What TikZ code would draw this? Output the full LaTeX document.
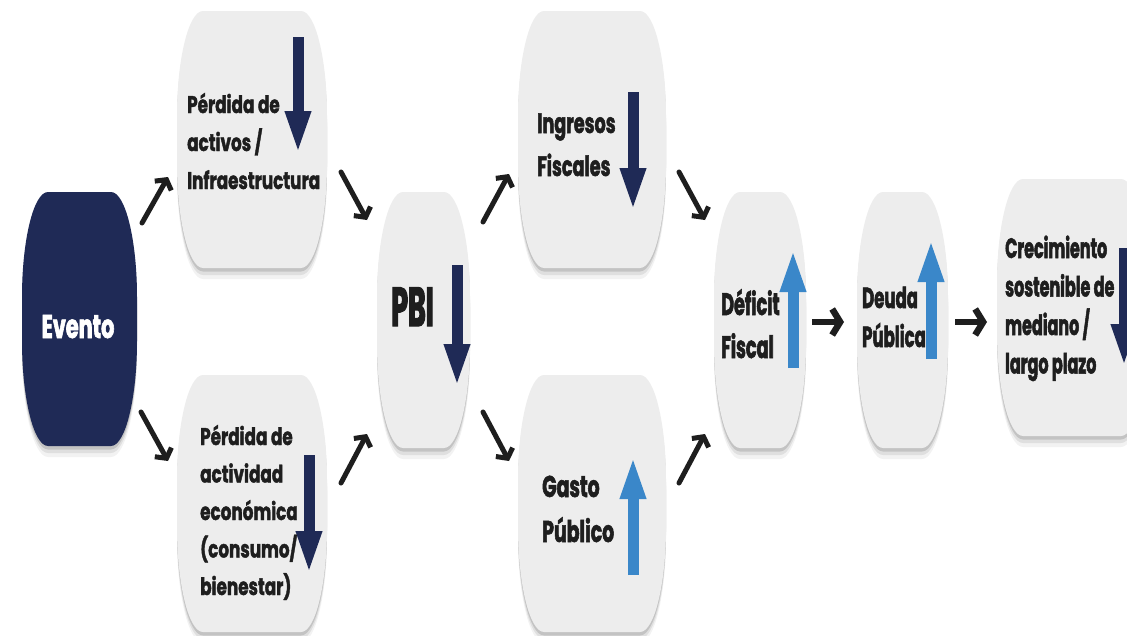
\documentclass[tikz,border=0pt]{standalone}
\usepackage{fontspec}
\setmainfont{Poppins}
\usetikzlibrary{arrows.meta}
\newfontfamily\fA[FakeStretch=0.70,FakeBold=1.6]{Poppins}
\newfontfamily\fB[FakeStretch=0.63,FakeBold=1.8]{Poppins}
\newfontfamily\fC[FakeStretch=0.57,FakeBold=1.8]{Poppins}
\newfontfamily\fD[FakeStretch=0.49,FakeBold=2.2]{Poppins}
\definecolor{navy}{HTML}{1F2A56}
\definecolor{sky}{HTML}{3A87C9}
\definecolor{boxgray}{HTML}{EDEDED}
\definecolor{ink}{HTML}{1E1E1E}
\newcommand\lines[1]{\begin{tabular}[t]{@{}l@{}}#1\end{tabular}}
\newcommand\barrelpath[4]{(#1+26,#2) -- (#3-26,#2) .. controls (#3-11.6,#2) and (#3,#2+48) .. (#3,#2+105) -- (#3,#4-105) .. controls (#3,#4-48) and (#3-11.6,#4) .. (#3-26,#4) -- (#1+26,#4) .. controls (#1+11.6,#4) and (#1,#4-48) .. (#1,#4-105) -- (#1,#2+105) .. controls (#1,#2+48) and (#1+11.6,#2) .. cycle}
\newcommand\barrel[6]{%
  \fill[black, opacity=0.05, shift={(0,11)}] \barrelpath{#2}{#3}{#4}{#5};
  \fill[black, opacity=0.08, shift={(0,7)}] \barrelpath{#2}{#3}{#4}{#5};
  \fill[black, opacity=0.12, shift={(0,3.5)}] \barrelpath{#2}{#3}{#4}{#5};
  \fill[#6] \barrelpath{#2}{#3}{#4}{#5};
  \node[boxnode, minimum width=#4-#2, minimum height=#5-#3] (#1) at ({(#2+#4)/2},{(#3+#5)/2}) {};
}
\tikzset{
  boxnode/.style={rectangle, inner sep=0pt, draw=none},
  txt/.style={inner sep=0pt, anchor=base west, text=ink, font=\bfseries},
  conn/.style={ink, line width=5pt, line cap=round, line join=round, -{Straight Barb[length=7pt,width=19pt]}},
  hconn/.style={ink, line width=6.5pt, line cap=butt, line join=round, -{Straight Barb[length=8pt,width=26pt]}},
  ind/.style={line width=11pt, -{Triangle[length=44pt,width=23pt]}},
}
\begin{document}
\begin{tikzpicture}[x=1pt,y=-1pt]
\useasboundingbox (0,0) rectangle (1127,635);
\clip (0,0) rectangle (1127,635);
\fill[white] (0,0) rectangle (1127,635);

% shapes
\barrel{b0}{22}{192}{137}{446}{navy}
\barrel{b1}{177}{11}{327}{268}{boxgray}
\barrel{b2}{177}{375}{327}{632}{boxgray}
\barrel{b3}{377}{192}{470}{448}{boxgray}
\barrel{b4}{518}{11}{666}{268}{boxgray}
\barrel{b5}{518}{375}{666}{632}{boxgray}
\barrel{b6}{714}{192}{806}{448}{boxgray}
\barrel{b7}{857}{192}{948}{448}{boxgray}
\barrel{b8}{997}{179}{1147}{436}{boxgray}

% indicators
\draw[ind, navy] (298,37) -- (298,155);
\draw[ind, navy] (309,455) -- (309,575);
\draw[ind, navy] (457,265) -- (457,388);
\draw[ind, navy] (633,92) -- (633,212);
\draw[ind, sky] (633,575) -- (633,455);
\draw[ind, sky] (793,368) -- (793,248);
\draw[ind, sky] (931,359) -- (931,238);
\draw[ind, navy] (1124,248) -- (1124,368);

% texts
\node[txt, anchor=base, text=white] (t0) at (78,338) {\fB\fontsize{33}{40}\selectfont Evento};
\node[txt] (t1) at (187,113) {\fA\fontsize{24}{38}\selectfont\lines{Pérdida de\\activos /\\Infraestructura}};
\node[txt] (t2) at (200,445) {\fA\fontsize{24}{37.5}\selectfont\lines{Pérdida de\\actividad\\económica\\(consumo/\\bienestar)}};
\node[txt] (t3) at (391,326) {\fD\fontsize{55}{60}\selectfont PBI};
\node[txt] (t4) at (537,133) {\fB\fontsize{28}{43}\selectfont\lines{Ingresos\\Fiscales}};
\node[txt] (t5) at (542,497) {\fB\fontsize{30}{45}\selectfont\lines{Gasto\\Público}};
\node[txt] (t6) at (721,315) {\fC\fontsize{31}{43}\selectfont\lines{Déficit\\Fiscal}};
\node[txt] (t7) at (862,308) {\fC\fontsize{29}{39}\selectfont\lines{Deuda\\Pública}};
\node[txt] (t8) at (1005,258) {\fC\fontsize{28}{38.5}\selectfont\lines{Crecimiento\\sostenible de\\mediano /\\largo plazo}};

% connectors
\coordinate (c01s) at (142,223); \coordinate (c01e) at (168,177);
\coordinate (c02s) at (141,412); \coordinate (c02e) at (168,461);
\coordinate (c13s) at (341,172); \coordinate (c13e) at (367,220);
\coordinate (c23s) at (341,483); \coordinate (c23e) at (367,434);
\coordinate (c34s) at (483,222); \coordinate (c34e) at (509,174);
\coordinate (c35s) at (483,412); \coordinate (c35e) at (509,461);
\coordinate (c46s) at (679,172); \coordinate (c46e) at (705,220);
\coordinate (c56s) at (679,483); \coordinate (c56e) at (705,434);
\coordinate (c67s) at (812,322); \coordinate (c67e) at (844,322);
\coordinate (c78s) at (955,322); \coordinate (c78e) at (987,322);
\draw[conn] (c01s) -- (c01e);
\draw[conn] (c02s) -- (c02e);
\draw[conn] (c13s) -- (c13e);
\draw[conn] (c23s) -- (c23e);
\draw[conn] (c34s) -- (c34e);
\draw[conn] (c35s) -- (c35e);
\draw[conn] (c46s) -- (c46e);
\draw[conn] (c56s) -- (c56e);
\draw[hconn] (c67s) -- (c67e);
\draw[hconn] (c78s) -- (c78e);
\end{tikzpicture}
\end{document}
